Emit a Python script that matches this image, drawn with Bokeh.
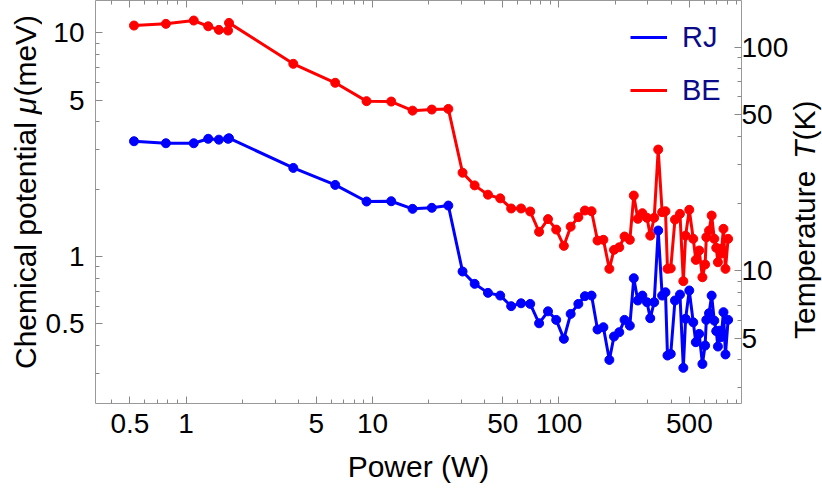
import math
from bokeh.plotting import figure
from bokeh.layouts import row
from bokeh.models import (LogAxis, FixedTicker, Range1d, LogScale, Label,
                          Legend, LegendItem)
from bokeh.embed import file_html
from bokeh.resources import INLINE

# ---------------- data ----------------
power = [0.526, 0.78, 1.10, 1.315, 1.50, 1.68, 1.70, 3.76, 6.31, 9.29, 12.6,
         16.4, 20.8, 25.5, 30.4, 35.3, 41.6, 48.4, 55.4, 62.6, 70.1, 78.2,
         87.3, 96.6, 106.2, 115.5, 127, 137.7, 149.5, 160.9, 173, 186.2,
         197.2, 210.5, 224.6, 239.8, 251.8, 264.6, 279.9, 296.4, 308.6, 324,
         340.4, 357.4, 372.4, 381.7, 397.4, 418.7, 445.3, 464.2, 477.5, 499.5,
         524.7, 541.6, 564.5, 587.6, 607.4, 616.6, 637.6, 658.5, 680.5, 696.9,
         711.5, 726, 740, 762, 781, 807]

mu_rj = [3.277, 3.21, 3.21, 3.36, 3.33, 3.36, 3.38, 2.49, 2.09, 1.762, 1.767,
         1.634, 1.651, 1.69, 0.857, 0.755, 0.688, 0.669, 0.60, 0.618, 0.614,
         0.503, 0.569, 0.521, 0.4286, 0.554, 0.614, 0.665, 0.669, 0.472, 0.483,
         0.345, 0.439, 0.459, 0.521, 0.491, 0.80, 0.636, 0.669, 0.625, 0.530,
         0.625, 1.307, 0.669, 0.692, 0.361, 0.367, 0.636, 0.676, 0.318, 0.527,
         0.705, 0.508, 0.414, 0.451, 0.331, 0.40, 0.521, 0.558, 0.669, 0.517,
         0.464, 0.396, 0.466, 0.436, 0.564, 0.365, 0.521]

mu_be = [10.78, 10.97, 11.35, 10.70, 10.31, 10.24, 11.08, 7.27, 5.98, 4.95,
         4.93, 4.49, 4.54, 4.57, 2.37, 2.08, 1.89, 1.82, 1.64, 1.64, 1.59, 1.29,
         1.47, 1.32, 1.116, 1.36, 1.50, 1.606, 1.594, 1.179, 1.188, 0.881,
         1.071, 1.10, 1.229, 1.188, 1.874, 1.474, 1.562, 1.49, 1.24, 1.49,
         3.008, 1.578, 1.594, 0.881, 0.885, 1.463, 1.552, 0.776, 1.24, 1.618,
         1.20, 0.966, 1.064, 0.808, 0.921, 1.22, 1.306, 1.525, 1.20, 1.094,
         0.943, 1.082, 1.03, 1.33, 0.881, 1.20]

x_ticks = [0.5, 1, 5, 10, 50, 100, 500]
x_minor = [0.4, 0.6, 0.7, 0.8, 0.9, 2, 3, 4, 6, 7, 8, 9, 20, 30, 40, 60, 70,
           80, 90, 200, 300, 400, 600, 700, 800, 900]
mu_ticks = [0.5, 1, 5, 10]
mu_minor = [0.3, 0.4, 0.6, 0.7, 0.8, 0.9, 2, 3, 4, 6, 7, 8, 9]
t_ticks = [5, 10, 50, 100]
t_minor = [3, 4, 6, 7, 8, 9, 20, 30, 40, 60, 70, 80, 90]
K_PER_MEV = 11.6          # temperature axis = mu / k_B

X_RANGE = (0.327, 952.0)
MU_RANGE = (0.2203, 13.95)

# ---------------- main figure ----------------
FONT = "Liberation Sans"
AXIS_GRAY = "#999999"
TICK_GRAY = "#888888"
H = 490

p = figure(width=749, height=H, x_axis_type="log", y_axis_type="log",
           x_range=Range1d(*X_RANGE), y_range=Range1d(*MU_RANGE),
           output_backend="svg", toolbar_location=None,
           min_border_left=51, min_border_right=46, min_border_top=0,
           min_border_bottom=87)
p.xgrid.visible = False
p.ygrid.visible = False
p.outline_line_color = None
p.background_fill_color = "white"
p.border_fill_color = "white"

p.extra_y_ranges = {"T": Range1d(MU_RANGE[0] * K_PER_MEV, MU_RANGE[1] * K_PER_MEV)}
p.extra_y_scales = {"T": LogScale()}


def fmt(v):
    return "%g" % v


def style_axis(ax, ticks, minor, show_labels=True, standoff=6):
    ax.ticker = FixedTicker(ticks=ticks, minor_ticks=minor)
    ax.axis_line_color = AXIS_GRAY
    ax.axis_line_width = 1
    ax.major_tick_line_color = TICK_GRAY
    ax.minor_tick_line_color = TICK_GRAY
    ax.major_tick_in = 7
    ax.major_tick_out = 0
    ax.minor_tick_in = 4
    ax.minor_tick_out = 0
    ax.major_label_text_font = FONT
    ax.major_label_text_color = "black"
    ax.major_label_standoff = standoff
    if show_labels:
        ax.major_label_text_font_size = "28px"
        ax.major_label_overrides = {t: fmt(t) for t in ticks}
    else:
        ax.major_label_text_font_size = "0px"
        ax.major_label_overrides = {t: "" for t in ticks}


style_axis(p.xaxis[0], x_ticks, x_minor, standoff=10)
style_axis(p.yaxis[0], mu_ticks, mu_minor, standoff=11)
p.xaxis[0].axis_label = "Power (W)"
p.xaxis[0].axis_label_text_font = FONT
p.xaxis[0].axis_label_text_font_size = "30px"
p.xaxis[0].axis_label_text_font_style = "normal"
p.xaxis[0].axis_label_text_color = "black"
p.xaxis[0].axis_label_standoff = 14

top_axis = LogAxis()
style_axis(top_axis, x_ticks, x_minor, show_labels=False, standoff=0)
p.add_layout(top_axis, "above")

right_axis = LogAxis(y_range_name="T")
style_axis(right_axis, t_ticks, t_minor, standoff=0)
p.add_layout(right_axis, "right")

# ---------------- data ----------------
BLUE = "#0000ff"
RED = "#ff0000"
rj_line = p.line(power, mu_rj, line_color=BLUE, line_width=3)
p.scatter(power, mu_rj, size=9, marker="circle", fill_color=BLUE, line_color=BLUE)
be_line = p.line(power, mu_be, line_color=RED, line_width=3)
p.scatter(power, mu_be, size=9, marker="circle", fill_color=RED, line_color=RED)

legend = Legend(items=[LegendItem(label="RJ", renderers=[rj_line]),
                       LegendItem(label="BE", renderers=[be_line])],
                location=(535, 293), orientation="vertical",
                glyph_width=37, glyph_height=40, label_height=40, spacing=13,
                padding=0, margin=0, label_standoff=15,
                border_line_color=None, background_fill_alpha=0,
                label_text_font=FONT, label_text_font_size="29px",
                label_text_color="#0b0b8a")
p.add_layout(legend)

# ---------------- side strips holding the vertical titles ----------------
TITLE_SIZE = "30px"
up = math.pi / 2


def strip(width):
    f = figure(width=width, height=H, x_range=Range1d(0, 1), y_range=Range1d(0, 1),
               output_backend="svg", toolbar_location=None,
               x_axis_location=None, y_axis_location=None, min_border=0)
    f.xgrid.visible = False
    f.ygrid.visible = False
    f.outline_line_color = None
    f.background_fill_alpha = 0
    f.border_fill_alpha = 0
    return f


def add_label(fig, x, y, text, style="normal"):
    fig.add_layout(Label(x=x, y=y, x_units="canvas", y_units="canvas", text=text,
                         angle=up, text_font=FONT, text_font_size=TITLE_SIZE,
                         text_font_style=style, text_color="black",
                         text_align="left", text_baseline="middle"))


left_strip = strip(42)
add_label(left_strip, 24.6, 368.5, "Chemical potential ")
add_label(left_strip, 24.6, 113.4, "\u03bc", style="italic")
add_label(left_strip, 24.6, 96.1, "(meV)")

# the right strip overlaps the (empty) lower part of the right border
right_strip = strip(45)
right_strip.margin = (0, 0, 0, -14)
add_label(right_strip, 26.6, 338.5, "Temperature ")
add_label(right_strip, 26.6, 158.4, "T", style="italic")
add_label(right_strip, 26.6, 140.1, "(K)")

layout = row(left_strip, p, right_strip, spacing=0)
open("out.html", "w").write(file_html(layout, INLINE))
